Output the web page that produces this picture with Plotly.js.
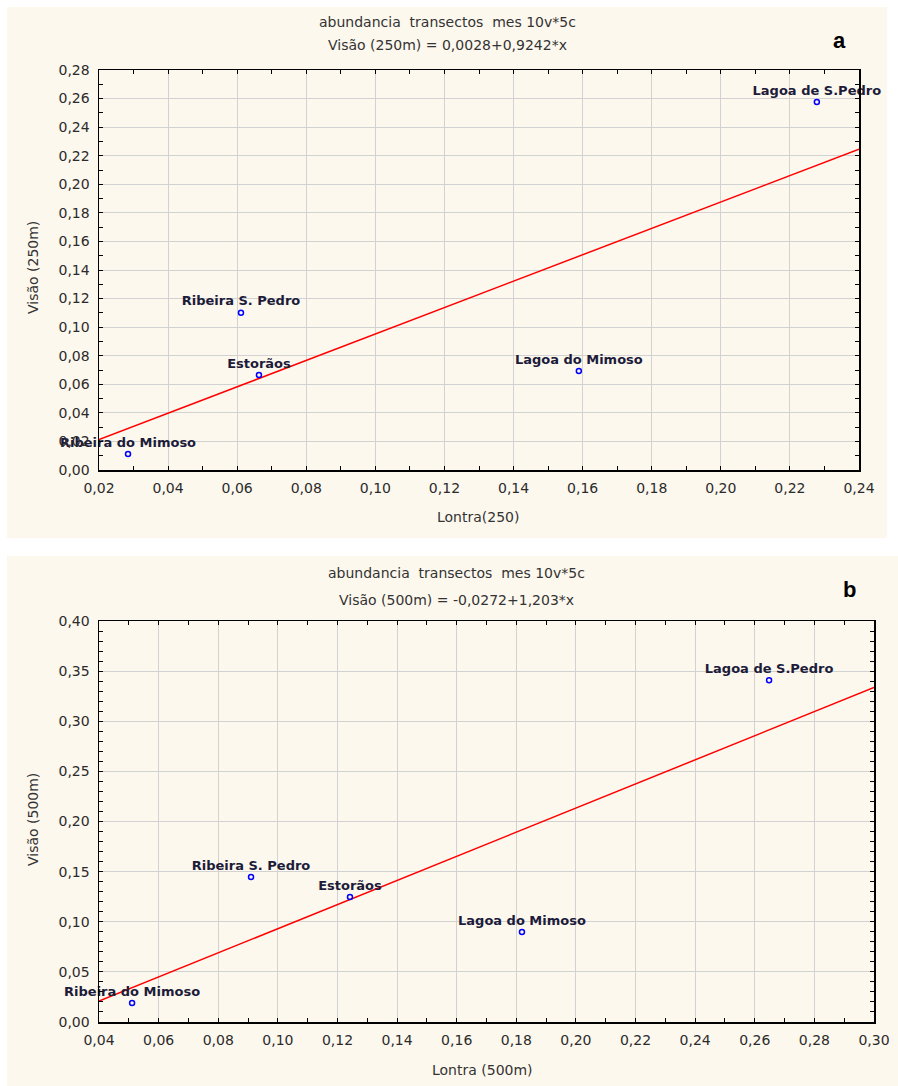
<!DOCTYPE html>
<html>
<head>
<meta charset="utf-8">
<script src="https://cdn.plot.ly/plotly-3.0.1.min.js"></script>
<style>html,body{margin:0;padding:0;background:#fff;}#chart{width:898px;height:1086px;}</style>
</head>
<body>
<div id="chart"></div>
<script>
// ---- data ----
const siteNames = ["Ribeira do Mimoso", "Ribeira S. Pedro", "Estorãos", "Lagoa do Mimoso", "Lagoa de S.Pedro"];
const lontra250 = [0.0284, 0.0611, 0.0663, 0.1589, 0.2278];
const visao250  = [0.0112, 0.1100, 0.0665, 0.0693, 0.2576];
const lontra500 = [0.0511, 0.0910, 0.1242, 0.1819, 0.2648];
const visao500  = [0.0190, 0.1446, 0.1247, 0.0898, 0.3410];
const fitA = {intercept: 0.0028, slope: 0.9242, xmin: 0.02, xmax: 0.24};
const fitB = {intercept: -0.0272, slope: 1.203, xmin: 0.04, xmax: 0.30};
const titleLine1 = "abundancia  transectos  mes 10v*5c";
const titleA = "Visão (250m) = 0,0028+0,9242*x";
const titleB = "Visão (500m) = -0,0272+1,203*x";

// ---- helpers ----
const W = 898, H = 1086;
const px = v => v / W;
const py = v => 1 - v / H;

const tickFont = {family: "DejaVu Sans, Arial, sans-serif", size: 14, color: "#2b2b2b"};
const labelFont = {family: "DejaVu Sans, sans-serif", size: 13, color: "#1c1c3a", weight: "bold"};
const titleFont = {family: "DejaVu Sans, Arial, sans-serif", size: 14, color: "#333333"};

function fitLine(f, xa, ya) {
  return {
    x: [f.xmin, f.xmax],
    y: [f.intercept + f.slope * f.xmin, f.intercept + f.slope * f.xmax],
    xaxis: xa, yaxis: ya, type: "scatter", mode: "lines",
    line: {color: "#ff0000", width: 1.5}, hoverinfo: "skip", showlegend: false
  };
}
function pts(x, y, xa, ya) {
  return {
    x: x, y: y, text: siteNames, xaxis: xa, yaxis: ya, type: "scatter",
    mode: "markers+text", textposition: "top center",
    textfont: labelFont, cliponaxis: false,
    marker: {symbol: "circle-open", size: 5, color: "#0000ff", line: {width: 1.5, color: "#0000ff"}},
    showlegend: false
  };
}

const data = [
  fitLine(fitA, "x", "y"), pts(lontra250, visao250, "x", "y"),
  fitLine(fitB, "x2", "y2"), pts(lontra500, visao500, "x2", "y2")
];

function axisCommon() {
  return {
    showgrid: true, gridcolor: "#d2d2d2", gridwidth: 1,
    showline: true, linecolor: "#000", linewidth: 1.5, mirror: "ticks",
    ticks: "inside", ticklen: 4, tickcolor: "#000", tickwidth: 1,
    tickfont: tickFont, tickformat: ".2f", zeroline: false,
    fixedrange: true, automargin: false, ticklabelstandoff: 5
  };
}

const layout = {
  width: W, height: H,
  margin: {l: 0, r: 0, t: 0, b: 0},
  paper_bgcolor: "#ffffff", plot_bgcolor: "#ffffff",
  separators: ",.",
  showlegend: false,
  xaxis: Object.assign(axisCommon(), {domain: [px(99), px(859)], range: [0.02, 0.24], tick0: 0, dtick: 0.02,
    minor: {dtick: 0.01, ticks: "inside", ticklen: 4, tickcolor: "#000", showgrid: false}, anchor: "y"}),
  yaxis: Object.assign(axisCommon(), {domain: [py(470), py(70)], range: [0, 0.28], tick0: 0, dtick: 0.02,
    minor: {dtick: 0.01, ticks: "inside", ticklen: 4, tickcolor: "#000", showgrid: false}, anchor: "x"}),
  xaxis2: Object.assign(axisCommon(), {domain: [px(99), px(874)], range: [0.04, 0.30], tick0: 0, dtick: 0.02,
    minor: {dtick: 0.01, ticks: "inside", ticklen: 4, tickcolor: "#000", showgrid: false}, anchor: "y2"}),
  yaxis2: Object.assign(axisCommon(), {domain: [py(1022), py(621)], range: [0, 0.40], tick0: 0, dtick: 0.05,
    minor: {dtick: 0.01, ticks: "inside", ticklen: 4, tickcolor: "#000", showgrid: false}, anchor: "x2"}),
  shapes: [
    {type: "rect", xref: "paper", yref: "paper", x0: px(7), x1: px(887), y0: py(538), y1: py(7),
      fillcolor: "#fdf8ee", line: {width: 0}, layer: "below"},
    {type: "rect", xref: "paper", yref: "paper", x0: px(7), x1: px(898), y0: py(1086), y1: py(556),
      fillcolor: "#fdf8ee", line: {width: 0}, layer: "below"}
  ],
  annotations: [
    {text: titleLine1, x: px(447), y: py(22), xref: "paper", yref: "paper", showarrow: false, font: titleFont, xanchor: "center", yanchor: "middle"},
    {text: titleA, x: px(447), y: py(45), xref: "paper", yref: "paper", showarrow: false, font: titleFont, xanchor: "center", yanchor: "middle"},
    {text: "<b>a</b>", x: px(839), y: py(40), xref: "paper", yref: "paper", showarrow: false, font: {family: "Liberation Sans, Arial, sans-serif", size: 22, color: "#000"}, xanchor: "center", yanchor: "middle"},
    {text: "Lontra(250)", x: px(478), y: py(517), xref: "paper", yref: "paper", showarrow: false, font: titleFont, xanchor: "center", yanchor: "middle"},
    {text: "Visão (250m)", x: px(33), y: py(268), xref: "paper", yref: "paper", showarrow: false, font: titleFont, textangle: -90, xanchor: "center", yanchor: "middle"},

    {text: titleLine1, x: px(456), y: py(573), xref: "paper", yref: "paper", showarrow: false, font: titleFont, xanchor: "center", yanchor: "middle"},
    {text: titleB, x: px(456), y: py(600), xref: "paper", yref: "paper", showarrow: false, font: titleFont, xanchor: "center", yanchor: "middle"},
    {text: "<b>b</b>", x: px(849), y: py(589), xref: "paper", yref: "paper", showarrow: false, font: {family: "Liberation Sans, Arial, sans-serif", size: 22, color: "#000"}, xanchor: "center", yanchor: "middle"},
    {text: "Lontra (500m)", x: px(482), y: py(1070), xref: "paper", yref: "paper", showarrow: false, font: titleFont, xanchor: "center", yanchor: "middle"},
    {text: "Visão (500m)", x: px(33), y: py(820), xref: "paper", yref: "paper", showarrow: false, font: titleFont, textangle: -90, xanchor: "center", yanchor: "middle"}
  ]
};

Plotly.newPlot("chart", data, layout, {displayModeBar: false, staticPlot: true});
</script>
</body>
</html>
